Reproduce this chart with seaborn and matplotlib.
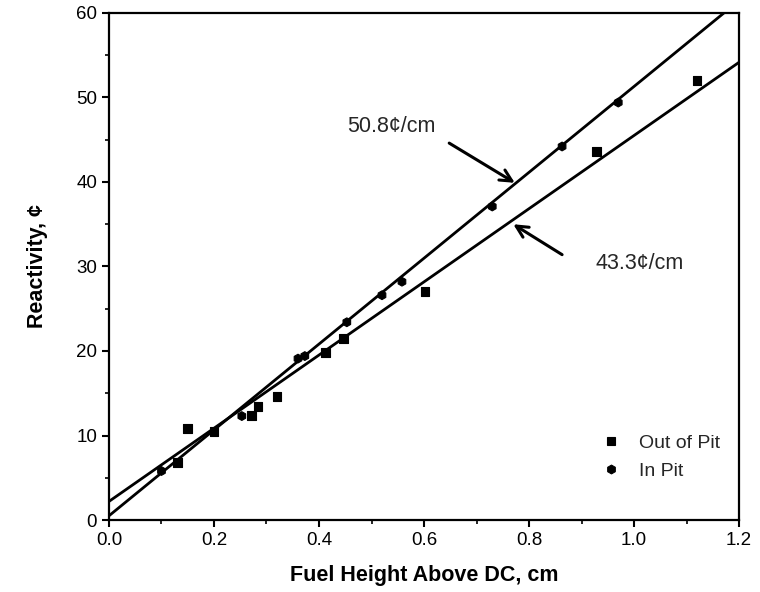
import numpy as np
import pandas as pd
import matplotlib
matplotlib.use("Agg")
import matplotlib.pyplot as plt
import seaborn as sns

# Data
out_x = [0.13, 0.15, 0.20, 0.272, 0.284, 0.32, 0.413, 0.446, 0.602, 0.928, 1.12]
out_y = [6.8, 10.8, 10.5, 12.4, 13.4, 14.6, 19.8, 21.5, 27.0, 43.6, 52.0]
in_x = [0.10, 0.253, 0.36, 0.373, 0.453, 0.52, 0.558, 0.73, 0.863, 0.97]
in_y = [5.8, 12.3, 19.1, 19.4, 23.4, 26.6, 28.2, 37.1, 44.2, 49.4]

# Fit lines (slope, intercept)
fit_slopes = [50.8, 43.3]
fit_intercepts = [0.5, 2.2]
fit_labels = ["50.8¢/cm", "43.3¢/cm"]

x_ticks = [0.0, 0.2, 0.4, 0.6, 0.8, 1.0, 1.2]
y_ticks = [0, 10, 20, 30, 40, 50, 60]

sns.set_theme(style="ticks")
plt.rcParams["font.family"] = ["Liberation Sans", "DejaVu Sans"]

fig = plt.figure(figsize=(7.6, 5.92), dpi=100)
ax = fig.add_axes([0.1434, 0.1216, 0.829, 0.8565])

df = pd.DataFrame({
    "x": out_x + in_x,
    "y": out_y + in_y,
    "grp": ["Out of Pit"] * len(out_x) + ["In Pit"] * len(in_x),
})

xx = np.array([0.0, 1.2])
for s, b in zip(fit_slopes, fit_intercepts):
    sns.lineplot(x=xx, y=s * xx + b, ax=ax, color="black", lw=2.0, legend=False)

sns.scatterplot(data=df, x="x", y="y", style="grp", hue="grp",
                palette={"Out of Pit": "black", "In Pit": "black"},
                markers={"Out of Pit": "s", "In Pit": "h"},
                s=40, edgecolor="black", linewidth=0.8, ax=ax, zorder=5)

ax.set_xlim(0, 1.2)
ax.set_ylim(0, 60)
ax.set_xticks(x_ticks)
ax.set_xticklabels([f"{t:.1f}" for t in x_ticks])
ax.set_yticks(y_ticks)
ax.set_xticks(np.arange(0.1, 1.2, 0.2), minor=True)
ax.set_yticks(np.arange(5, 60, 10), minor=True)
ax.tick_params(axis="both", which="major", direction="out", length=5, width=1.5,
               labelsize=13.5, color="black", labelcolor="black")
ax.tick_params(axis="both", which="minor", direction="out", length=3, width=1.2,
               color="black")
for sp in ax.spines.values():
    sp.set_linewidth(1.6)
    sp.set_color("black")

ax.set_xlabel("Fuel Height Above DC, cm", fontsize=15.5, fontweight="bold",
              labelpad=12, color="black")
ax.set_ylabel("Reactivity, ¢", fontsize=15.5, fontweight="bold", labelpad=20,
              color="black")

arrow_kw = dict(arrowstyle="->,head_length=0.7,head_width=0.35", color="black",
                lw=2.2, shrinkA=0, shrinkB=0)
ax.annotate("", xy=(0.773, 39.9), xytext=(0.648, 44.6), arrowprops=arrow_kw)
ax.annotate("", xy=(0.77, 35.0), xytext=(0.863, 31.4), arrowprops=arrow_kw)
ax.text(0.537, 46.6, fit_labels[0], fontsize=15.5, ha="center", va="center")
ax.text(1.011, 30.3, fit_labels[1], fontsize=15.5, ha="center", va="center")

leg = ax.legend(loc="center left", bbox_to_anchor=(0.738, 0.124), frameon=False,
                fontsize=14, handletextpad=0.45, labelspacing=0.55,
                handlelength=2.0, borderpad=0.4)

fig.savefig("out.png", dpi=100)
